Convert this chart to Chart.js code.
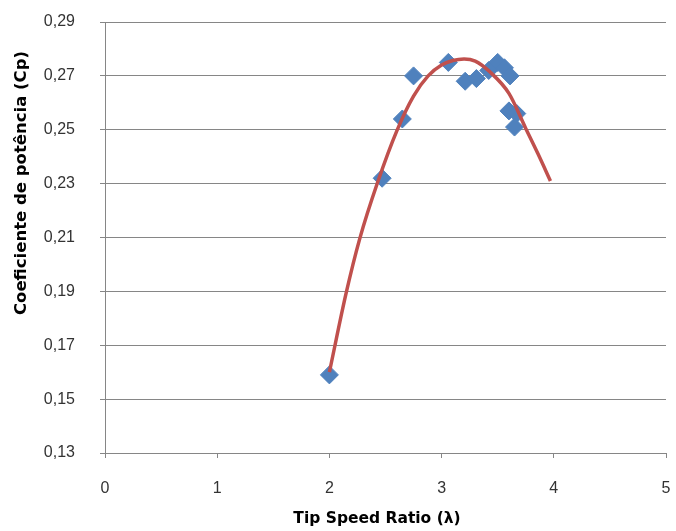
<!DOCTYPE html>
<html>
<head>
<meta charset="utf-8">
<script src="https://cdn.jsdelivr.net/npm/chart.js@4/dist/chart.umd.min.js"></script>
<style>
  body { margin: 0; background: #fff; }
  #wrap { width: 676px; height: 531px; }
</style>
</head>
<body>
<div id="wrap"><canvas id="cpChart"></canvas></div>
<script>
// measured points (tip speed ratio vs Cp)
const tsr = [2.0, 2.47, 2.65, 2.75, 3.06, 3.21, 3.31, 3.42, 3.5, 3.56, 3.61, 3.6, 3.67, 3.65];
const cp = [0.159, 0.232, 0.254, 0.270, 0.275, 0.268, 0.269, 0.272, 0.275, 0.273, 0.270, 0.257, 0.256, 0.251];

// trend line
const trendX = [2.0, 2.15, 2.27, 2.43, 2.6, 2.75, 2.88, 3.0, 3.1, 3.2, 3.3, 3.43, 3.6, 3.75, 3.86, 3.97];
const trendY = [0.160, 0.1895, 0.2095, 0.2305, 0.2495, 0.2625, 0.270, 0.274, 0.2757, 0.2763, 0.2755, 0.2715, 0.2635, 0.2505, 0.241, 0.231];

const yTicks = [0.13, 0.15, 0.17, 0.19, 0.21, 0.23, 0.25, 0.27, 0.29];

const xTitle = 'Tip Speed Ratio (λ)';
const yTitle = 'Coeficiente de potência (Cp)';

const gridGrey = '#868686';
const labelFont = { family: 'Liberation Sans', size: 16 };

const toPoints = (xs, ys) => xs.map((x, i) => ({ x: x, y: ys[i] }));

// axis titles are not centred on the plot in the original, so place them by hand
const axisTitles = {
    id: 'axisTitles',
    afterDraw(chart) {
        const ctx = chart.ctx;
        ctx.save();
        ctx.fillStyle = '#000';
        ctx.textAlign = 'center';
        ctx.textBaseline = 'middle';
        ctx.font = 'bold 15.5px "DejaVu Sans"';
        ctx.fillText(xTitle, 377, 519);
        ctx.translate(22, 183);
        ctx.rotate(-Math.PI / 2);
        ctx.font = 'bold 16.5px "DejaVu Sans"';
        ctx.fillText(yTitle, 0, 0);
        ctx.restore();
    }
};

document.addEventListener('DOMContentLoaded', () => {
    const ctx = document.getElementById('cpChart').getContext('2d');
    new Chart(ctx, {
        type: 'scatter',
        data: {
            datasets: [{
                label: 'Polinomial',
                data: toPoints(trendX, trendY),
                showLine: true,
                borderColor: '#C0504D',
                borderWidth: 3.5,
                pointRadius: 0,
                cubicInterpolationMode: 'monotone',
                order: 0
            }, {
                label: 'Cp',
                data: toPoints(tsr, cp),
                pointStyle: 'rectRot',
                pointRadius: 9,
                backgroundColor: '#4F81BD',
                borderColor: '#4F81BD',
                borderWidth: 1,
                order: 1
            }]
        },
        options: {
            responsive: true,
            maintainAspectRatio: false,
            animation: false,
            layout: { padding: { top: 22, right: 8, left: 0, bottom: 0 } },
            plugins: {
                legend: { display: false },
                tooltip: { enabled: false }
            },
            scales: {
                x: {
                    type: 'linear',
                    min: 0,
                    max: 5,
                    afterFit: s => {
                        s.height = 78;
                        s.paddingLeft = 0;
                        s.paddingRight = 0;
                    },
                    ticks: {
                        stepSize: 1,
                        padding: 21,
                        color: '#333',
                        font: labelFont,
                        maxRotation: 0
                    },
                    grid: {
                        drawOnChartArea: false,
                        drawTicks: true,
                        tickLength: 5,
                        color: gridGrey
                    },
                    border: { color: gridGrey }
                },
                y: {
                    min: yTicks[0],
                    max: yTicks[yTicks.length - 1],
                    afterFit: s => {
                        s.width = 105;
                        s.paddingTop = 0;
                        s.paddingBottom = 0;
                    },
                    afterBuildTicks: s => { s.ticks = yTicks.map(v => ({ value: v })); },
                    ticks: {
                        padding: 25,
                        color: '#333',
                        font: labelFont,
                        callback: v => v.toFixed(2).replace('.', ',')
                    },
                    grid: {
                        color: gridGrey,
                        tickLength: 5
                    },
                    border: { color: gridGrey }
                }
            }
        },
        plugins: [axisTitles]
    });
});
</script>
</body>
</html>
